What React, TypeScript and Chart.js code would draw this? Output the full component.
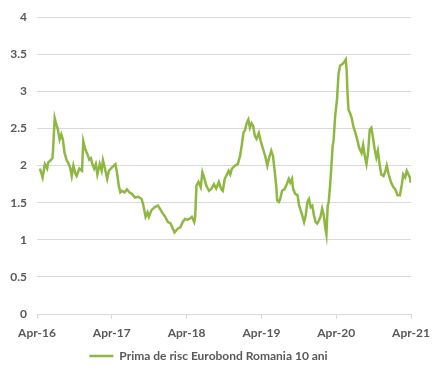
import React, { useEffect, useRef } from "react";
import { Chart, registerables } from "chart.js";

Chart.register(...registerables);

// months elapsed since April 2016
const months = [
  0.47, 0.9, 1.26, 1.63, 1.78, 2.16, 2.48, 2.57, 2.84, 3.11, 3.32, 3.63, 3.9, 4.15, 4.42, 4.78,
  5.1, 5.32, 5.57, 5.84, 6.16, 6.36, 6.79, 7.22, 7.42, 7.74, 8.1, 8.37, 8.64, 8.89, 9.16, 9.43,
  9.68, 10.06, 10.37, 10.58, 10.9, 11.26, 11.53, 11.95, 12.32, 12.58, 12.84, 13.11, 13.37, 13.63,
  14.05, 14.42, 14.8, 15.21, 15.74, 16.26, 16.78, 17.05, 17.42, 17.73, 17.95, 18.36, 18.9, 19.42,
  19.85, 20.21, 20.57, 21.0, 21.43, 21.79, 22.06, 22.58, 23.01, 23.37, 23.73, 24.16, 24.59, 24.84,
  25.22, 25.37, 25.58, 25.9, 26.26, 26.53, 26.8, 27.16, 27.59, 28.0, 28.37, 28.74, 29.16, 29.57,
  29.8, 30.11, 30.47, 30.74, 31.0, 31.26, 31.79, 32.21, 32.57, 32.84, 33.11, 33.36, 33.63, 33.9,
  34.15, 34.42, 34.69, 34.94, 35.21, 35.58, 35.89, 36.27, 36.63, 36.95, 37.22, 37.58, 37.85, 38.1,
  38.37, 38.53, 38.8, 39.0, 39.32, 39.68, 40.06, 40.38, 40.63, 40.9, 41.1, 41.42, 41.8, 42.05,
  42.48, 42.84, 43.11, 43.37, 43.63, 43.9, 44.16, 44.42, 44.69, 44.95, 45.21, 45.48, 45.74, 46.0,
  46.26, 46.42, 46.63, 46.79, 47.05, 47.42, 47.58, 47.84, 48.11, 48.37, 48.63, 49.0, 49.31, 49.53,
  49.66, 49.82, 49.98, 50.21, 50.48, 50.74, 51.0, 51.37, 51.68, 52.06, 52.31, 52.58, 52.85, 53.1,
  53.37, 53.64, 53.89, 54.16, 54.43, 54.68, 54.95, 55.22, 55.58, 55.9, 56.1, 56.42, 56.8, 57.16,
  57.48, 57.84, 58.22, 58.53, 58.74, 59.06, 59.32, 59.58, 59.8, 59.96,
];

const spreadValues = [
  1.96, 1.84, 2.02, 1.96, 2.04, 2.07, 2.1, 2.2, 2.64, 2.55, 2.5, 2.35, 2.42, 2.35, 2.17, 2.07,
  2.02, 1.97, 1.86, 2.0, 1.89, 1.86, 1.96, 1.93, 2.33, 2.22, 2.15, 2.08, 2.1, 2.02, 1.96, 2.02,
  1.88, 2.02, 1.93, 2.07, 1.96, 1.82, 1.93, 1.97, 2.0, 2.02, 1.9, 1.73, 1.64, 1.66,
  1.64, 1.68, 1.64, 1.62, 1.57, 1.58, 1.55, 1.47, 1.31, 1.37, 1.31, 1.4, 1.44, 1.46,
  1.4, 1.35, 1.31, 1.24, 1.22, 1.15, 1.1, 1.15, 1.17, 1.24, 1.28, 1.27, 1.29, 1.31,
  1.24, 1.31, 1.73, 1.78, 1.71, 1.91, 1.84, 1.73, 1.66, 1.69, 1.75, 1.69, 1.78, 1.68,
  1.66, 1.82, 1.88, 1.93, 1.88, 1.96, 2.0, 2.02, 2.13, 2.27, 2.44, 2.48, 2.57, 2.62,
  2.51, 2.57, 2.53, 2.4, 2.36, 2.44, 2.33, 2.22, 2.12, 2.0, 2.1, 2.2, 2.13, 1.95,
  1.73, 1.53, 1.51, 1.55, 1.66, 1.68, 1.75, 1.82, 1.77, 1.82, 1.68, 1.62, 1.6, 1.46,
  1.35, 1.24, 1.33, 1.51, 1.55, 1.44, 1.46, 1.33, 1.24, 1.22, 1.26, 1.31, 1.42, 1.33,
  1.15, 1.07, 1.46, 1.51, 1.77, 2.26, 2.35, 2.68, 2.88, 3.24, 3.35, 3.37, 3.4, 3.43,
  3.3, 2.95, 2.75, 2.71, 2.64, 2.53, 2.46, 2.35, 2.24, 2.17, 2.28, 2.13, 2.02, 2.17,
  2.48, 2.51, 2.38, 2.22, 2.11, 2.2, 2.02, 1.88, 1.86, 1.93, 2.0, 1.88, 1.77, 1.71,
  1.68, 1.6, 1.6, 1.75, 1.88, 1.84, 1.93, 1.88, 1.84, 1.77,
];

const xTickLabels = ["Apr-16", "Apr-17", "Apr-18", "Apr-19", "Apr-20", "Apr-21"];
const seriesLabel = "Prima de risc Eurobond Romania 10 ani";

const TEXT = "#595959";
const GRID = "#d9d9d9";
const GREEN = "#8fb843";

export default function App() {
  const ref = useRef<HTMLCanvasElement>(null);

  useEffect(() => {
    if (!ref.current) return;
    const points = months.map((m, i) => ({ x: m, y: spreadValues[i] }));
    const font = { family: "Lato", size: 12, weight: "bold" as const };
    const chart = new Chart(ref.current, {
      type: "line",
      data: {
        datasets: [
          {
            label: seriesLabel,
            data: points,
            borderColor: GREEN,
            backgroundColor: GREEN,
            borderWidth: 2.5,
            pointRadius: 0,
            tension: 0,
          },
        ],
      },
      options: {
        animation: false,
        responsive: true,
        maintainAspectRatio: false,
        layout: { padding: { top: 10, right: 20, bottom: 2, left: 0 } },
        plugins: {
          tooltip: { enabled: false },
          legend: {
            position: "bottom",
            labels: {
              color: TEXT,
              font,
              usePointStyle: true,
              pointStyle: "line",
              pointStyleWidth: 24,
              boxHeight: 12,
              padding: 10,
            },
          },
        },
        scales: {
          x: {
            type: "linear",
            min: 0,
            max: 60,
            afterBuildTicks: (scale: any) => {
              scale.ticks = xTickLabels.map((_, i) => ({ value: i * 12 }));
            },
            ticks: {
              color: TEXT,
              font,
              padding: 7,
              maxRotation: 0,
              autoSkip: false,
              callback: (v: any) => xTickLabels[Math.round(Number(v) / 12)] ?? "",
            },
            grid: {
              drawOnChartArea: false,
              drawTicks: true,
              tickLength: 5,
              color: GRID,
            },
            border: { display: true, color: GRID },
            afterFit: (scale: any) => {
              scale.height = 26;
            },
          },
          y: {
            min: 0,
            max: 4,
            ticks: {
              stepSize: 0.5,
              color: TEXT,
              font,
              padding: 10,
              callback: (v: any) => String(Number(v)),
            },
            grid: { color: GRID, drawTicks: false },
            border: { display: false },
            afterFit: (scale: any) => {
              scale.width = 37;
            },
          },
        },
      },
    });
    return () => chart.destroy();
  }, []);

  return (
    <div style={{ position: "fixed", left: 0, top: 0, width: 437, height: 374, background: "#fff" }}>
      <canvas ref={ref} />
    </div>
  );
}
